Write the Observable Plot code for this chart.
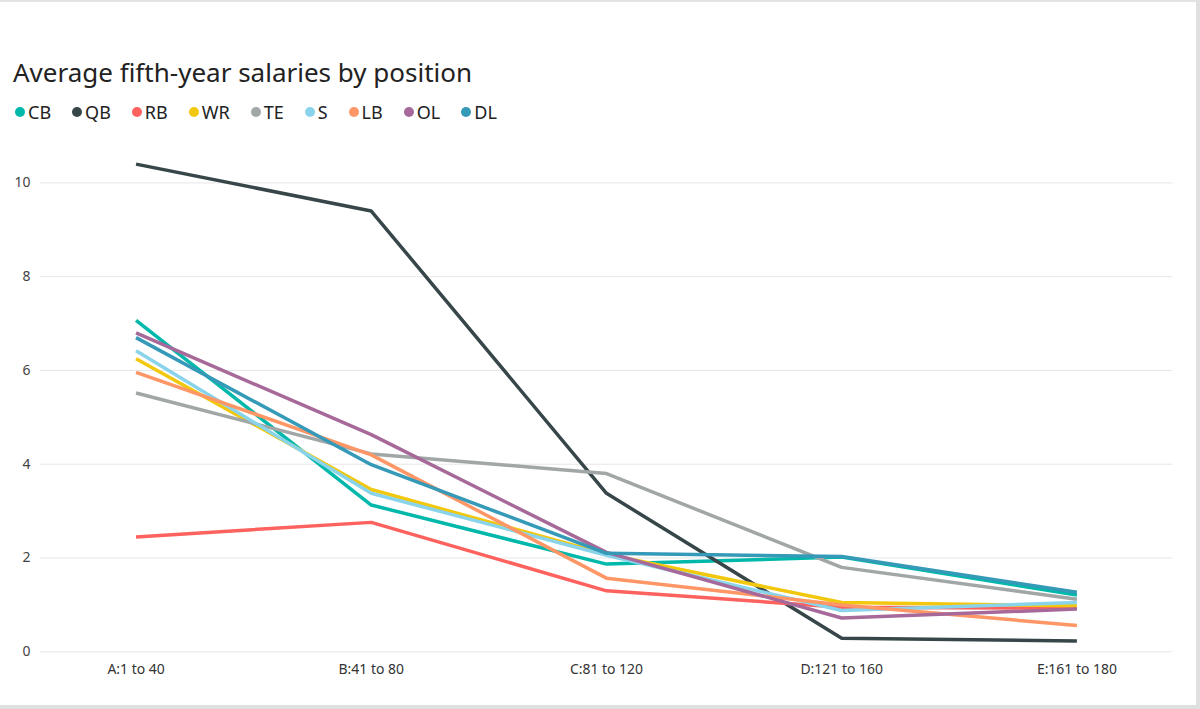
<!DOCTYPE html>
<html>
<head>
<meta charset="utf-8">
<script src="https://cdn.jsdelivr.net/npm/d3@7"></script>
<script src="https://cdn.jsdelivr.net/npm/@observablehq/plot@0.6"></script>
<style>
  html, body { margin: 0; padding: 0; background: #fff; }
  #card {
    position: relative; width: 1200px; height: 709px; box-sizing: border-box;
    border-top: 2px solid #e3e3e3; border-right: 4px solid #e0e0e0; border-bottom: 4px solid #e0e0e0;
    font-family: "Noto Sans", "Open Sans", sans-serif; overflow: hidden;
  }
  #title { position: absolute; left: 13px; top: 52px; font-size: 26px; color: #222; white-space: nowrap; line-height: 36px; }
  #legend { position: absolute; left: 15px; top: 97px; display: flex; font-size: 18px; color: #222; line-height: 26px; }
  .item { display: flex; align-items: center; margin-right: 21px; }
  .dot { width: 10px; height: 10px; border-radius: 50%; margin-right: 3px; }
  #chart { position: absolute; left: 0; top: 138px; }
</style>
</head>
<body>
<div id="card">
  <div id="title">Average fifth-year salaries by position</div>
  <div id="legend"></div>
  <div id="chart"></div>
</div>
<script>
const categories = ["A:1 to 40", "B:41 to 80", "C:81 to 120", "D:121 to 160", "E:161 to 180"];
const positions = ["CB", "QB", "RB", "WR", "TE", "S", "LB", "OL", "DL"];
const colors = ["#01B8AA", "#374649", "#FD625E", "#F2C80F", "#A1A6A6", "#8AD4EB", "#FE9666", "#A66999", "#3599B8"];
const yTicks = [0, 2, 4, 6, 8, 10];

const CB = [7.07, 3.13, 1.87, 2.02, 1.21];
const QB = [10.4, 9.4, 3.38, 0.29, 0.23];
const RB = [2.45, 2.76, 1.30, 0.95, 0.93];
const WR = [6.25, 3.46, 2.08, 1.05, 0.98];
const TE = [5.52, 4.22, 3.80, 1.80, 1.12];
const S  = [6.42, 3.38, 2.06, 0.88, 1.05];
const LB = [5.96, 4.20, 1.57, 1.00, 0.56];
const OL = [6.80, 4.63, 2.12, 0.72, 0.91];
const DL = [6.70, 3.99, 2.10, 2.03, 1.27];

const seriesValues = {CB, QB, RB, WR, TE, S, LB, OL, DL};
const rows = positions.flatMap(p => categories.map((c, i) => ({position: p, category: c, value: seriesValues[p][i]})));

// legend
const legend = document.getElementById("legend");
positions.forEach((p, i) => {
  const it = document.createElement("div");
  it.className = "item";
  const d = document.createElement("span");
  d.className = "dot";
  d.style.background = colors[i];
  const t = document.createElement("span");
  t.textContent = p;
  it.appendChild(d); it.appendChild(t);
  legend.appendChild(it);
});

const plot = Plot.plot({
  width: 1200,
  height: 562,
  marginLeft: 40,
  marginRight: 24,
  marginTop: 19,
  marginBottom: 49,
  style: {fontFamily: "'Noto Sans', 'Open Sans', sans-serif", fontSize: "14px", color: "#333", background: "#fff"},
  x: {type: "point", domain: categories, padding: 0.4, label: null},
  y: {domain: [0, 10.5], label: null},
  color: {domain: positions, range: colors},
  marks: [
    Plot.gridY(yTicks, {stroke: "#e6e6e6", strokeOpacity: 1, strokeWidth: 1}),
    Plot.axisX({tickSize: 0, tickPadding: 12, fontSize: 14, fill: "#333"}),
    Plot.axisY(yTicks, {tickSize: 0, tickPadding: 10, fontSize: 14, fill: "#444", tickFormat: d3.format("d")}),
    Plot.line(rows, {x: "category", y: "value", z: "position", stroke: "position", strokeWidth: 3.5, strokeLinejoin: "miter", strokeLinecap: "butt"})
  ]
});
document.getElementById("chart").appendChild(plot);
</script>
</body>
</html>
